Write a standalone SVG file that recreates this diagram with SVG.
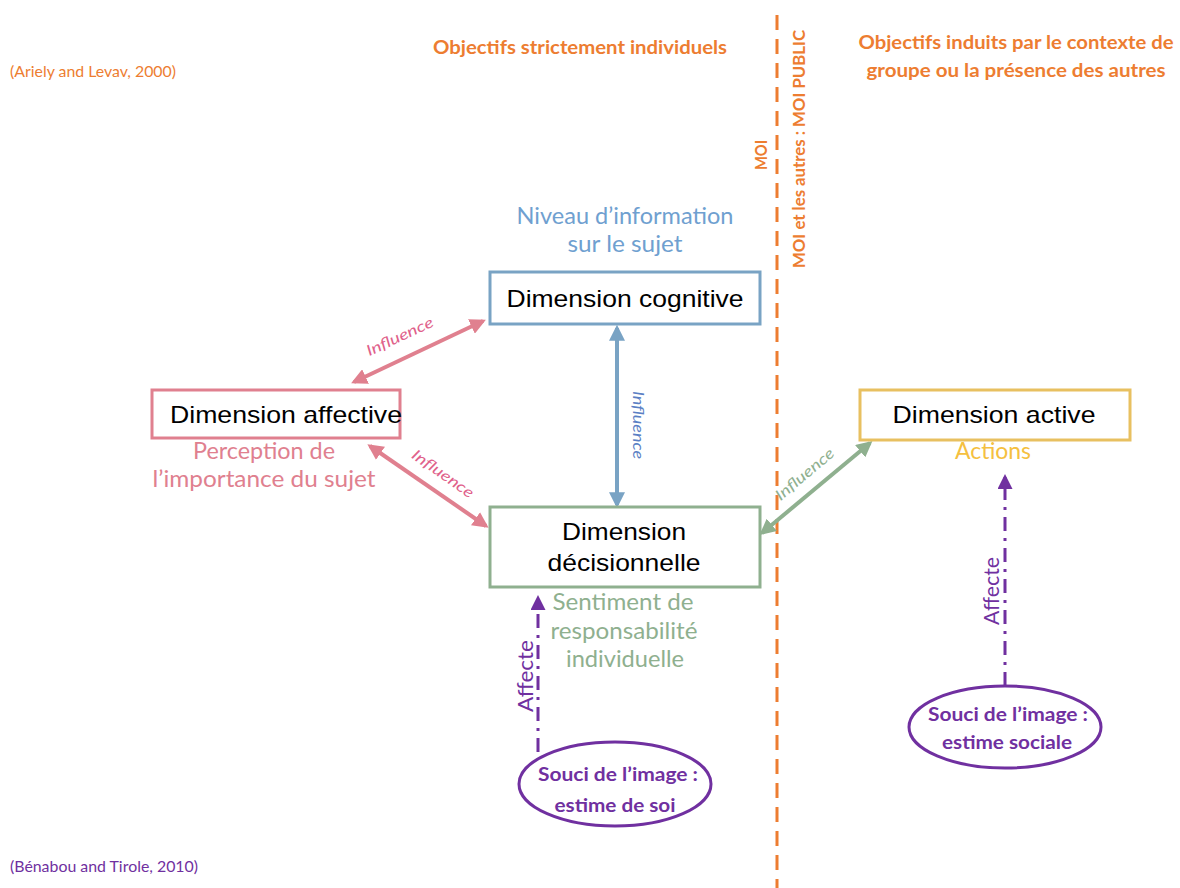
<svg xmlns="http://www.w3.org/2000/svg" width="1180" height="888" viewBox="0 0 1180 888">
<style>
.box{fill:#fff;stroke-width:3}
.lbl{font-family:"Liberation Sans",Arial,sans-serif;font-size:24px;fill:#000;text-anchor:middle}
.sub{font-family:"Lato","Open Sans",sans-serif;font-size:23px;text-anchor:middle}
.hdr{font-family:"Lato","Open Sans",sans-serif;font-size:19px;font-weight:bold;fill:#ED7D31;text-anchor:middle}
.ref{font-family:"Lato","Open Sans",sans-serif;font-size:15px}
.inf{font-family:"Lato","Open Sans",sans-serif;font-size:15px;font-style:italic;text-anchor:middle}
.aff{font-family:"Lato","Open Sans",sans-serif;font-size:21px;fill:#7030A0;text-anchor:middle}
.ell{font-family:"Lato","Open Sans",sans-serif;font-size:19px;font-weight:bold;fill:#7030A0;text-anchor:middle}
</style>
<defs>
<marker id="ap" viewBox="0 0 10 10" refX="8" refY="5" markerWidth="4" markerHeight="4" orient="auto-start-reverse"><path d="M0,0L10,5L0,10z" fill="#E0808F"/></marker>
<marker id="ab" viewBox="0 0 10 10" refX="8" refY="5" markerWidth="4" markerHeight="4" orient="auto-start-reverse"><path d="M0,0L10,5L0,10z" fill="#79A3C4"/></marker>
<marker id="ag" viewBox="0 0 10 10" refX="8" refY="5" markerWidth="4" markerHeight="4" orient="auto-start-reverse"><path d="M0,0L10,5L0,10z" fill="#8FB08F"/></marker>
<marker id="au" viewBox="0 0 10 10" refX="8" refY="5" markerWidth="5" markerHeight="5" orient="auto"><path d="M0,0L10,5L0,10z" fill="#7030A0"/></marker>
</defs>
<rect width="1180" height="888" fill="#fff"/>

<g id="headers">
<text class="ref" x="10" y="77" fill="#ED7D31" textLength="166" lengthAdjust="spacingAndGlyphs">(Ariely and Levav, 2000)</text>
<text class="ref" x="10" y="872" fill="#7030A0" textLength="188" lengthAdjust="spacingAndGlyphs">(Bénabou and Tirole, 2010)</text>
<text class="hdr" x="580" y="54" textLength="294" lengthAdjust="spacingAndGlyphs">Objectifs strictement individuels</text>
<text class="hdr" x="1016" y="49" textLength="315" lengthAdjust="spacingAndGlyphs">Objectifs induits par le contexte de</text>
<text class="hdr" x="1016" y="77" textLength="299" lengthAdjust="spacingAndGlyphs">groupe ou la présence des autres</text>
<line x1="777" y1="15" x2="777" y2="888" stroke="#ED7D31" stroke-width="3" stroke-dasharray="15,9"/>
<text class="hdr" transform="translate(767,155) rotate(-90)" style="font-size:17px" textLength="30" lengthAdjust="spacingAndGlyphs">MOI</text>
<text class="hdr" transform="translate(805,149) rotate(-90)" style="font-size:17px" textLength="238" lengthAdjust="spacingAndGlyphs">MOI et les autres : MOI PUBLIC</text>
</g>

<g id="connectors">
<line x1="483" y1="321" x2="354" y2="382" stroke="#E0808F" stroke-width="4" marker-start="url(#ap)" marker-end="url(#ap)"/>
<line x1="370" y1="446" x2="486" y2="526" stroke="#E0808F" stroke-width="4" marker-start="url(#ap)" marker-end="url(#ap)"/>
<line x1="617" y1="328" x2="617" y2="505" stroke="#79A3C4" stroke-width="4" marker-start="url(#ab)" marker-end="url(#ab)"/>
<line x1="762" y1="533" x2="870" y2="443" stroke="#8FB08F" stroke-width="4" marker-start="url(#ag)" marker-end="url(#ag)"/>
<line x1="538" y1="752" x2="538" y2="598" stroke="#7030A0" stroke-width="3" stroke-dasharray="14,7,3,7" marker-end="url(#au)"/>
<line x1="1005" y1="686" x2="1005" y2="477" stroke="#7030A0" stroke-width="3" stroke-dasharray="14,7,3,7" marker-end="url(#au)"/>
<text class="inf" fill="#E0608A" transform="translate(402,341) rotate(-25)" textLength="72" lengthAdjust="spacingAndGlyphs">Influence</text>
<text class="inf" fill="#E0608A" transform="translate(440,478) rotate(35)" textLength="72" lengthAdjust="spacingAndGlyphs">Influence</text>
<text class="inf" fill="#5B7FC4" transform="translate(633,425) rotate(90)" textLength="68" lengthAdjust="spacingAndGlyphs">Influence</text>
<text class="inf" fill="#8FB08F" transform="translate(808,478) rotate(-40)" textLength="72" lengthAdjust="spacingAndGlyphs">Influence</text>
<text class="aff" transform="translate(533,676) rotate(-90)" textLength="72" lengthAdjust="spacingAndGlyphs">Affecte</text>
<text class="aff" transform="translate(999,591) rotate(-90)" textLength="68" lengthAdjust="spacingAndGlyphs">Affecte</text>
</g>

<g id="cognitive">
<rect class="box" x="490" y="272" width="270" height="52" stroke="#79A3C4"/>
<text class="lbl" x="625" y="307" textLength="237" lengthAdjust="spacingAndGlyphs">Dimension cognitive</text>
<text class="sub" x="625" y="224" fill="#6FA0D0" textLength="217" lengthAdjust="spacingAndGlyphs">Niveau d’information</text>
<text class="sub" x="625" y="252" fill="#6FA0D0" textLength="115" lengthAdjust="spacingAndGlyphs">sur le sujet</text>
</g>

<g id="affective">
<rect class="box" x="152" y="390" width="248" height="48" stroke="#E0808F"/>
<text class="lbl" x="286" y="423" textLength="232" lengthAdjust="spacingAndGlyphs">Dimension affective</text>
<text class="sub" x="264" y="459" fill="#E0808F" textLength="142" lengthAdjust="spacingAndGlyphs">Perception de</text>
<text class="sub" x="264" y="487" fill="#E0808F" textLength="223" lengthAdjust="spacingAndGlyphs">l’importance du sujet</text>
</g>

<g id="decision">
<rect class="box" x="490" y="507" width="270" height="80" stroke="#8FB08F"/>
<text class="lbl" x="624" y="540" textLength="124" lengthAdjust="spacingAndGlyphs">Dimension</text>
<text class="lbl" x="624" y="571" textLength="153" lengthAdjust="spacingAndGlyphs">décisionnelle</text>
<text class="sub" x="623" y="610" fill="#8FB08F" textLength="141" lengthAdjust="spacingAndGlyphs">Sentiment de</text>
<text class="sub" x="624" y="639" fill="#8FB08F" textLength="147" lengthAdjust="spacingAndGlyphs">responsabilité</text>
<text class="sub" x="625" y="667" fill="#8FB08F" textLength="118" lengthAdjust="spacingAndGlyphs">individuelle</text>
</g>

<g id="active">
<rect class="box" x="860" y="390" width="270" height="50" stroke="#E8C060"/>
<text class="lbl" x="994" y="423" textLength="203" lengthAdjust="spacingAndGlyphs">Dimension active</text>
<text class="sub" x="993" y="459" fill="#F5C040" textLength="76" lengthAdjust="spacingAndGlyphs">Actions</text>
</g>

<g id="estime-soi">
<ellipse cx="615" cy="784" rx="96" ry="42" fill="#fff" stroke="#7030A0" stroke-width="3"/>
<text class="ell" x="618" y="781" textLength="160" lengthAdjust="spacingAndGlyphs">Souci de l’image :</text>
<text class="ell" x="615" y="812" textLength="121" lengthAdjust="spacingAndGlyphs">estime de soi</text>
</g>

<g id="estime-sociale">
<ellipse cx="1005" cy="727" rx="96" ry="41" fill="#fff" stroke="#7030A0" stroke-width="3"/>
<text class="ell" x="1008" y="721" textLength="160" lengthAdjust="spacingAndGlyphs">Souci de l’image :</text>
<text class="ell" x="1007" y="749" textLength="130" lengthAdjust="spacingAndGlyphs">estime sociale</text>
</g>
</svg>
